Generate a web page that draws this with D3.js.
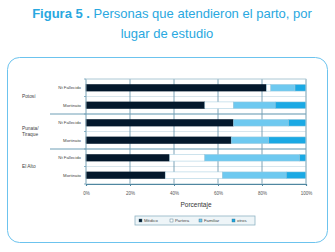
<!DOCTYPE html>
<html>
<head>
<meta charset="utf-8">
<script src="https://cdn.jsdelivr.net/npm/d3@7"></script>
<style>
  body { margin: 0; background: #fff; }
  svg text { font-family: "Liberation Sans", Arial, sans-serif; }
</style>
</head>
<body>
<svg id="chart" width="335" height="252"></svg>
<script>
var groups = ["Potosí", "Punata/\nTiraque", "El Alto"];
var rows = ["Nt Fallecido", "Mortinato"];
var series = ["Médico", "Partera", "Familiar", "otros"];
// percent per bar, top to bottom
var medico   = [82, 54, 67, 66, 38, 36];
var partera  = [2, 13, 0, 0, 16, 26];
var familiar = [11, 19, 25, 17, 43, 29];
var otros    = [5, 14, 8, 17, 3, 9];
var xTicks = [0, 20, 40, 60, 80, 100];

var colors = ["#03182c", "#ffffff", "#6ec9f0", "#1aa9e4"];

var svg = d3.select("#chart");

// title
var title = svg.append("text").attr("text-anchor", "middle").attr("fill", "#29a8e0")
    .style("font-size", "13px");
title.append("tspan").attr("x", 172).attr("y", 18).style("font-weight", "bold").text("Figura 5 .");
title.append("tspan").text(" Personas que atendieron el parto, por");
svg.append("text").attr("x", 167).attr("y", 38).attr("text-anchor", "middle")
    .attr("fill", "#29a8e0").style("font-size", "13px").text("lugar de estudio");

// frame
svg.append("rect").attr("x", 7.5).attr("y", 57.5).attr("width", 320).attr("height", 185)
    .attr("rx", 12).attr("fill", "none").attr("stroke", "#6cc3ee").attr("stroke-width", 1);

var bars = [];
groups.forEach(function (g, gi) {
    rows.forEach(function (r, ri) { bars.push({ id: gi * 2 + ri, group: g, row: r }); });
});
var table = bars.map(function (b, i) {
    return { id: b.id, row: b.row, "Médico": medico[i], "Partera": partera[i], "Familiar": familiar[i], "otros": otros[i] };
});

var pLeft = 86, pRight = 306, pTop = 79, pBottom = 184;
var x = d3.scaleLinear().domain([0, 100]).range([pLeft, pRight]);
var y = d3.scaleBand().domain(bars.map(d => d.id)).range([pTop, pBottom]).paddingInner(0.62).paddingOuter(0.31);
var step = y.step();

var stack = d3.stack().keys(series)(table);

// faint row lines
var g = svg.append("g");
d3.range(7).forEach(function (i) {
    g.append("line").attr("x1", pLeft).attr("x2", pRight)
        .attr("y1", pTop + i * step).attr("y2", pTop + i * step)
        .attr("stroke", "#cfe0e8").attr("stroke-width", 0.8);
});

// vertical grid
g.selectAll(".grid").data(xTicks).enter().append("line")
    .attr("x1", d => x(d)).attr("x2", d => x(d))
    .attr("y1", pTop).attr("y2", pBottom)
    .attr("stroke", "#5d8ea6").attr("stroke-width", 0.8);

// bars
stack.forEach(function (s, si) {
    g.selectAll(".s" + si).data(s).enter().append("rect")
        .attr("x", d => x(d[0]))
        .attr("y", d => y(d.data.id))
        .attr("width", d => x(d[1]) - x(d[0]))
        .attr("height", y.bandwidth())
        .attr("fill", colors[si])
        .attr("stroke", si == 0 ? "#03182c" : "#9cc8dc")
        .attr("stroke-width", 0.5);
});

// plot border
g.append("rect").attr("x", pLeft).attr("y", pTop).attr("width", pRight - pLeft).attr("height", pBottom - pTop)
    .attr("fill", "none").attr("stroke", "#b5cdd8").attr("stroke-width", 0.8);

// x axis
var xAxis = svg.append("g").attr("transform", "translate(0," + pBottom + ")")
    .call(d3.axisBottom(x).tickValues(xTicks).tickSize(2).tickFormat(d => d + "%"));
xAxis.select(".domain").attr("stroke", "#4f86a0").attr("stroke-width", 1.2);
xAxis.selectAll(".tick line").attr("stroke", "#4f86a0");
xAxis.selectAll("text").attr("y", 8).style("font-size", "4.5px").attr("fill", "#555");

svg.append("text").attr("x", 196).attr("y", 207).attr("text-anchor", "middle")
    .style("font-size", "6.5px").attr("fill", "#333").text("Porcentaje");

// row labels
svg.selectAll(".rl").data(bars).enter().append("text")
    .attr("x", 81).attr("y", d => y(d.id) + y.bandwidth() / 2 + 1.5)
    .attr("text-anchor", "end").style("font-size", "4.3px").attr("fill", "#444")
    .text(d => d.row);

// group labels
groups.forEach(function (gname, gi) {
    var lines = gname.split("\n");
    var cy = pTop + step * (gi * 2 + 1);
    lines.forEach(function (l, li) {
        svg.append("text").attr("x", 22)
            .attr("y", cy + 1.5 + (li - (lines.length - 1) / 2) * 6)
            .style("font-size", "4.8px").attr("fill", "#444").text(l);
    });
});

// group separators and left ticks
[2, 4].forEach(function (i) {
    svg.append("line").attr("x1", 50).attr("x2", pRight)
        .attr("y1", pTop + i * step).attr("y2", pTop + i * step)
        .attr("stroke", "#6f9fb6").attr("stroke-width", 1);
});
d3.range(7).forEach(function (i) {
    svg.append("line").attr("x1", pLeft - 2).attr("x2", pLeft)
        .attr("y1", pTop + i * step).attr("y2", pTop + i * step)
        .attr("stroke", "#6f9fb6").attr("stroke-width", 0.8);
});

// legend
var lg = svg.append("g").attr("transform", "translate(135,216)");
lg.append("rect").attr("width", 120).attr("height", 9)
    .attr("fill", "#eef5f8").attr("stroke", "#8fb3c4").attr("stroke-width", 0.8);
var lx = [4, 35, 64, 97];
series.forEach(function (s, i) {
    lg.append("rect").attr("x", lx[i]).attr("y", 3).attr("width", 3).attr("height", 3)
        .attr("fill", colors[i]).attr("stroke", "#3a6a84").attr("stroke-width", 0.4);
    lg.append("text").attr("x", lx[i] + 5).attr("y", 6.2)
        .style("font-size", "4.3px").attr("fill", "#444").text(s);
});
</script>
</body>
</html>
